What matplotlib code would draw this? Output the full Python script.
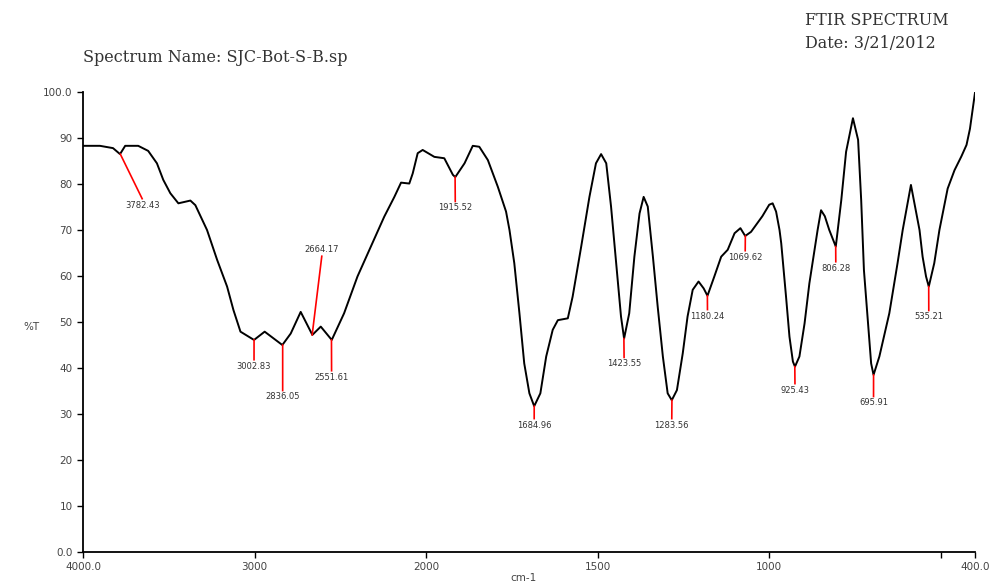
import numpy as np
import matplotlib
matplotlib.use("Agg")
import matplotlib.pyplot as plt

# spectrum (cm-1, %T)
wavenumber = [4000, 3901, 3825, 3784, 3754, 3678, 3620, 3569, 3532, 3491, 3444, 3374, 3345,
              3277, 3218, 3160, 3123, 3082, 3003, 2941, 2838, 2789, 2731, 2663, 2614, 2550,
              2478, 2400, 2322, 2244, 2185, 2146, 2098, 2078, 2049, 2020, 1976, 1947, 1922,
              1915, 1888, 1864, 1845, 1820, 1791, 1767, 1757, 1743, 1728, 1714, 1699, 1685,
              1667, 1650, 1631, 1616, 1587, 1573, 1548, 1524, 1505, 1490, 1475, 1461, 1446,
              1432, 1423, 1408, 1393, 1378, 1366, 1354, 1339, 1325, 1310, 1296, 1284, 1269,
              1252, 1238, 1223, 1206, 1191, 1180, 1160, 1140, 1121, 1101, 1084, 1070, 1053,
              1020, 1000, 990, 980, 970, 965, 951, 941, 931, 925, 912, 897, 883, 868, 859,
              849, 838, 825, 806, 790, 776, 756, 741, 732, 724, 712, 703, 696, 679, 650, 626,
              611, 587, 562, 553, 543, 535, 519, 504, 480, 460, 440, 425, 415, 400]
transmittance = [88.3, 88.3, 87.8, 86.5, 88.3, 88.3, 87.2, 84.5, 80.9, 78.0, 75.8, 76.4, 75.4,
                 70.0, 63.5, 57.7, 52.6, 47.9, 46.1, 47.9, 45.0, 47.5, 52.2, 47.2, 49.0, 46.1,
                 51.9, 59.9, 66.4, 72.9, 77.2, 80.3, 80.1, 82.3, 86.7, 87.4, 85.9, 85.6, 82.0,
                 81.5, 84.5, 88.3, 88.1, 85.2, 79.4, 74.0, 70.0, 62.8, 51.9, 41.0, 34.5, 31.7,
                 34.5, 42.5, 48.3, 50.4, 50.8, 55.5, 66.4, 77.2, 84.5, 86.5, 84.5, 75.1, 62.8,
                 51.2, 46.4, 51.9, 64.2, 73.6, 77.2, 75.1, 64.2, 53.3, 42.5, 34.5, 33.0, 35.2,
                 43.2, 51.2, 57.0, 58.8, 57.3, 55.7, 59.9, 64.2, 65.7, 69.3, 70.4, 68.7, 69.6,
                 73.0, 75.5, 75.8, 74.0, 70.0, 67.1, 55.5, 46.8, 41.4, 40.3, 42.5, 49.7, 58.4,
                 65.7, 70.0, 74.3, 73.0, 70.0, 66.4, 76.5, 87.0, 94.3, 89.6, 76.5, 61.3, 49.7,
                 41.0, 38.5, 42.5, 51.9, 62.8, 70.0, 79.8, 70.0, 64.2, 59.9, 57.7, 62.8, 70.0,
                 79.0, 83.0, 86.0, 88.5, 92.0, 100.0]

# picked peaks
peak_wn = [3782.43, 3002.83, 2836.05, 2664.17, 2551.61, 1915.52, 1684.96, 1423.55,
           1283.56, 1180.24, 1069.62, 925.43, 806.28, 695.91, 535.21]
peak_t = [86.5, 46.1, 45.0, 47.2, 46.1, 81.5, 31.7, 46.4, 33.0, 55.7, 68.7, 40.3, 66.4, 38.5, 57.7]
label_wn = [3655, 3003, 2836, 2608, 2551, 1915, 1685, 1423, 1284, 1180, 1070, 925, 806, 696, 535]
label_t = [75.4, 40.4, 33.7, 65.7, 38.0, 74.8, 27.6, 40.9, 27.6, 51.3, 64.1, 35.2, 61.7, 32.4, 51.1]

x_ticks = [4000, 3000, 2000, 1500, 1000, 500, 400]
x_tick_labels = ["4000.0", "3000", "2000", "1500", "1000", "", "400.0"]
y_ticks = [0, 10, 20, 30, 40, 50, 60, 70, 80, 90, 100]
y_tick_labels = ["0.0", "10", "20", "30", "40", "50", "60", "70", "80", "90", "100.0"]


def fwd(w):
    w = np.asarray(w, dtype=float)
    return np.where(w > 2000, 2000 + (w - 2000) / 2, w)


def inv(u):
    u = np.asarray(u, dtype=float)
    return np.where(u > 2000, 2000 + (u - 2000) * 2, u)


fig = plt.figure(figsize=(9.95, 5.86), dpi=100)
ax = fig.add_axes([0.0834, 0.058, 0.8966, 0.785])
ax.set_xscale("function", functions=(fwd, inv))
ax.plot(wavenumber, transmittance, color="black", lw=1.4)

for w, t, lw_, lt in zip(peak_wn, peak_t, label_wn, label_t):
    # marker line stops just short of the label, above or below
    end = lt - 1.4 if lt > t else lt + 1.4
    ax.plot([w, lw_], [t, end], color="red", lw=1.2)
    ax.text(lw_, lt, f"{w:.2f}", ha="center", va="center", fontsize=6, color="#333333")

ax.set_xlim(4000, 400)
ax.set_ylim(0, 100)
ax.set_xticks(x_ticks)
ax.set_xticklabels(x_tick_labels)
ax.set_yticks(y_ticks)
ax.set_yticklabels(y_tick_labels)
ax.xaxis.set_minor_locator(matplotlib.ticker.NullLocator())
ax.tick_params(labelsize=7.5, colors="#444444", length=4, width=1)
ax.tick_params(axis="both", color="black")
for s in ["top", "right"]:
    ax.spines[s].set_visible(False)
for s in ["left", "bottom"]:
    ax.spines[s].set_linewidth(1.3)

fig.text(0.023, 0.442, "%T", fontsize=7.5, color="#444444", va="center")
fig.text(0.513, 0.008, "cm-1", fontsize=7.5, color="#444444", ha="left")

serif = "DejaVu Serif"
fig.text(0.0834, 0.894, "Spectrum Name: SJC-Bot-S-B.sp", fontsize=11.5, family=serif, color="#333333")
fig.text(0.809, 0.957, "FTIR SPECTRUM", fontsize=11.5, family=serif, color="#333333")
fig.text(0.809, 0.918, "Date: 3/21/2012", fontsize=11.5, family=serif, color="#333333")

fig.savefig("out.png", dpi=100)
